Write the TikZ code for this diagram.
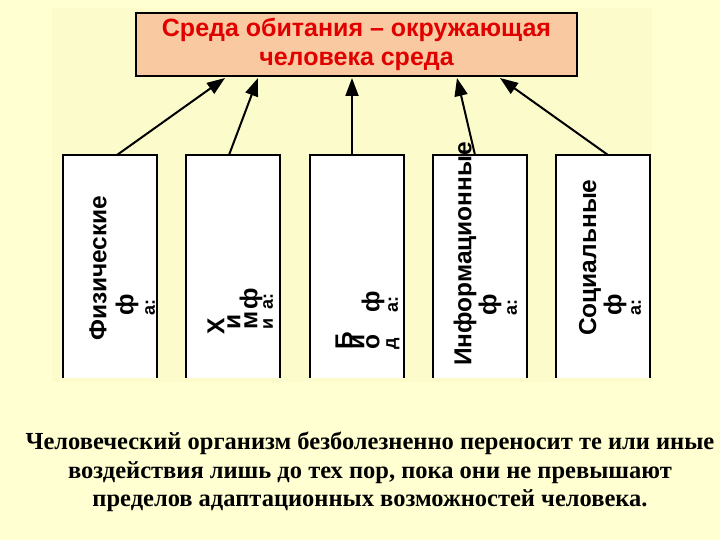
\documentclass[tikz,border=0pt]{standalone}
\usepackage{fontspec}
\setmainfont{Liberation Serif}
\setsansfont{Liberation Sans}
\usetikzlibrary{arrows.meta,calc}
\definecolor{pagebg}{HTML}{FFFFD2}
\definecolor{innerbg}{HTML}{FBFBCB}
\definecolor{titlebg}{HTML}{F9C9A1}
\definecolor{titlered}{HTML}{E00000}
\tikzset{
  col/.style={draw=black,line width=2pt},
  vt/.style={rotate=90,anchor=west,inner sep=0pt,font=\sffamily\bfseries\fontsize{24.5}{24.5}\selectfont},
  vs/.style={rotate=90,anchor=west,inner sep=0pt,font=\sffamily\bfseries\fontsize{18}{18}\selectfont},
  arr/.style={-{Triangle[length=18pt,width=13pt]},line width=2pt}
}
\begin{document}
\begin{tikzpicture}[x=1pt,y=-1pt]
\fill[pagebg] (0,0) rectangle (720,540);
\useasboundingbox (0,0) rectangle (720,540);
\fill[innerbg] (52,8) rectangle (652,382);
\node[draw,line width=2.5pt,fill=titlebg,minimum width=441pt,minimum height=63pt,inner sep=0pt,
  align=center,text=titlered,font=\sffamily\bfseries\fontsize{25}{29}\selectfont] (top) at (356.5,44.5)
  {Среда обитания – окружающая\\человека среда};
% columns
\foreach \x in {63,186,310,433,556}{
  \fill[white] (\x,155) rectangle ++(94,223);
  \draw[col] (\x,378) -- (\x,155) -- ++(94,0) -- ++(0,223);
}
\coordinate (s1) at (117,155);
\coordinate (s2) at (229,155);
\coordinate (s3) at (352,155);
\coordinate (s4) at (475,155);
\coordinate (s5) at (608,155);
\coordinate (a1) at (225,78);
\coordinate (a2) at (258,78);
\coordinate (a3) at (352,78);
\coordinate (a4) at (457,78);
\coordinate (a5) at (500,78);
\foreach \i in {1,...,5}{\draw[arr] (s\i) -- (a\i);}
% column texts
\node[vt] (t1) at (98,341) {Физические};
\node[vt] (t1b) at (127,316) {ф};
\node[vs] (t1c) at (150,316) {а:};
\node[vt] (t2) at (216,335) {Х};
\node[vt] (t2b) at (234,330) {и};
\node[vt] (t2c) at (251,330) {м};
\node[vt] (t2d) at (251,310) {ф};
\node[vs] (t2e) at (268,330) {и};
\node[vs] (t2f) at (268,310) {а:};
\node[vt] (t3) at (344,350) {Б};
\node[vt] (t3b) at (358,350) {и};
\node[vt] (t3c) at (373,350) {о};
\node[vt] (t3d) at (373,313) {ф};
\node[vs] (t3e) at (393,350) {д};
\node[vs] (t3f) at (393,313) {а:};
\node[vt] (t4) at (465,366) {Информационные};
\node[vt] (t4b) at (490,316) {ф};
\node[vs] (t4c) at (512,316) {а:};
\node[vt] (t5) at (590,336) {Социальные};
\node[vt] (t5b) at (615,316) {ф};
\node[vs] (t5c) at (636,316) {а:};
\node[align=center,font=\bfseries\fontsize{24.5}{28.5}\selectfont] (bottom) at (370,472)
  {Человеческий организм безболезненно переносит те или иные\\
   воздействия лишь до тех пор, пока они не превышают\\
   пределов адаптационных возможностей человека.};
\end{tikzpicture}
\end{document}
